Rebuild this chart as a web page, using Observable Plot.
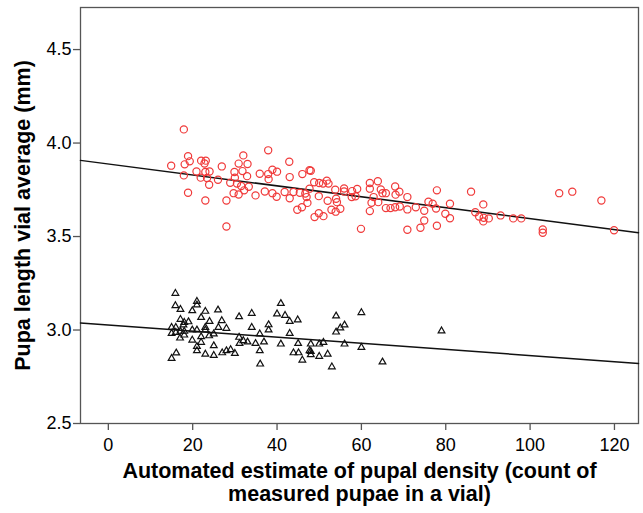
<!DOCTYPE html>
<html>
<head>
<meta charset="utf-8">
<script src="https://cdn.jsdelivr.net/npm/d3@7"></script>
<script src="https://cdn.jsdelivr.net/npm/@observablehq/plot@0.6"></script>
<style>
  html, body { margin: 0; padding: 0; background: #fff; }
  #chart svg { display: block; }
</style>
</head>
<body>
<div id="chart"></div>
<script>
// Red circles (upper group)
const redX = [14.9,17.9,18.9,18.1,19.3,17.9,18.9,22.0,23.1,22.8,20.9,23.0,24.0,21.9,23.4,23.9,26.0,26.9,23.0,28.0,28.0,29.9,30.9,32.0,33.0,32.9,31.8,28.9,30.0,30.5,31.5,29.7,30.9,32.2,33.3,34.9,35.9,37.9,37.9,38.9,40.0,38.0,37.1,38.9,39.9,42.9,43.0,41.8,43.0,46.0,47.7,43.9,45.4,46.7,47.2,45.9,44.8,47.7,
  48.0,48.8,50.0,50.9,51.8,52.2,47.0,49.9,52.0,53.8,55.9,55.9,57.8,59.0,54.0,54.2,57.7,58.6,55.0,52.9,53.9,49.9,48.9,51.0,59.9,62.0,62.0,63.9,64.6,65.0,65.8,68.0,69.0,68.1,62.9,62.4,64.0,62.0,65.8,66.9,68.0,69.1,70.9,70.9,70.9,72.9,74.9,74.9,74.0,75.9,76.9,77.9,77.7,77.9,79.9,81.0,81.0,
  86.0,87.0,88.9,87.9,89.0,90.2,88.9,93.0,96.0,97.9,103.0,103.0,106.9,110.0,116.9,119.9];
const redY = [3.879,4.073,3.93,3.886,3.902,3.827,3.734,3.906,3.906,3.891,3.848,3.845,3.848,3.815,3.813,3.777,3.804,3.875,3.693,3.693,3.554,3.845,3.89,3.934,3.888,3.823,3.85,3.788,3.815,3.783,3.77,3.732,3.725,3.747,3.766,3.72,3.836,3.961,3.834,3.857,3.847,3.807,3.741,3.732,3.713,3.9,3.818,3.738,3.705,3.834,3.855,3.738,3.734,3.73,3.68,3.657,3.643,3.756,
  3.852,3.79,3.786,3.783,3.799,3.783,3.711,3.716,3.691,3.75,3.757,3.741,3.743,3.754,3.702,3.684,3.711,3.715,3.649,3.643,3.633,3.625,3.604,3.609,3.541,3.786,3.756,3.796,3.752,3.732,3.732,3.768,3.74,3.724,3.711,3.681,3.684,3.636,3.652,3.652,3.657,3.661,3.711,3.645,3.536,3.657,3.638,3.586,3.547,3.686,3.675,3.747,3.65,3.558,3.622,3.675,3.598,
  3.74,3.63,3.672,3.607,3.6,3.597,3.581,3.613,3.597,3.597,3.538,3.52,3.732,3.74,3.693,3.534];

// Black triangles (lower group)
const blackX = [15.9,15.9,17.1,21.0,21.0,19.9,23.0,26.0,22.0,17.1,18.0,19.0,17.8,24.0,26.9,23.0,23.0,15.0,16.0,15.0,16.0,17.1,18.0,19.9,21.0,26.1,28.0,25.0,17.0,18.0,19.9,22.0,22.0,23.9,21.0,21.0,25.0,16.1,15.0,23.0,25.0,27.0,28.0,29.0,30.0,31.0,34.0,34.0,31.0,32.0,33.0,31.1,34.9,35.9,36.9,35.9,36.0,38.0,38.0,40.9,40.0,41.9,43.0,44.9,43.0,40.9,45.0,43.9,45.1,46.0,47.7,
  54.0,60.0,56.0,55.0,54.0,56.0,60.0,51.0,50.0,48.0,48.0,48.0,52.0,50.0,53.0,65.0,79.0];
const blackY = [3.196,3.13,3.11,3.153,3.134,3.103,3.1,3.107,3.067,3.057,3.041,3.044,3.027,3.046,3.05,3.014,3.0,3.014,3.014,2.982,2.987,2.993,2.993,3.0,3.0,3.014,3.009,2.979,2.957,2.973,2.946,2.964,2.934,2.969,2.912,2.889,2.916,2.877,2.848,2.871,2.864,2.878,2.889,2.895,2.875,3.071,3.089,3.014,2.961,2.943,2.936,2.928,2.928,2.979,2.936,2.889,2.818,3.028,3.0,3.142,3.086,3.078,3.046,3.054,2.982,2.925,2.928,2.878,2.878,2.839,2.889,
  3.075,3.093,3.027,3.011,2.989,2.925,2.907,2.934,2.925,2.925,2.885,2.868,2.871,2.859,2.803,2.829,2.995];

// Fitted lines (intercept, slope)
const fitNames = ["red", "black"];
const fitIntercept = [3.888, 3.027];
const fitSlope = [-0.002925, -0.001635];

const xTicks = [0, 20, 40, 60, 80, 100, 120];
const yTicks = [2.5, 3.0, 3.5, 4.0, 4.5];
const xTitle1 = "Automated estimate of pupal density (count of";
const xTitle2 = "measured pupae in a vial)";
const yTitle = "Pupa length vial average (mm)";

const xDomain = [-6.6, 125.7];
const yDomain = [2.5, 4.725];

const red = redX.map((x, i) => ({x, y: redY[i]}));
const black = blackX.map((x, i) => ({x, y: blackY[i]}));
const fitLines = fitNames.flatMap((g, i) => xDomain.map(x => ({g, x, y: fitIntercept[i] + fitSlope[i] * x})));

const plot = Plot.plot({
  width: 643,
  height: 513,
  marginLeft: 80,
  marginRight: 5,
  marginTop: 7,
  marginBottom: 90,
  style: {fontFamily: "'Liberation Sans', Arial, sans-serif", fontSize: "18px", color: "#000", background: "#fff"},
  x: {domain: xDomain},
  y: {domain: yDomain},
  marks: [
    Plot.axisX({ticks: xTicks, tickSize: 7, tickPadding: 8, stroke: "#555", strokeWidth: 1.3, fill: "#000", label: null, fontSize: 18}),
    Plot.axisY({ticks: yTicks, tickFormat: d3.format(".1f"), tickSize: 7, tickPadding: 2, stroke: "#555", strokeWidth: 1.3, fill: "#000", label: null, fontSize: 18}),
    Plot.frame({stroke: "#555", strokeWidth: 1.3}),
    Plot.line(fitLines, {x: "x", y: "y", z: "g", stroke: "#111", strokeWidth: 1.5}),
    Plot.dot(red, {x: "x", y: "y", r: 3.6, stroke: "#f03a3a", strokeWidth: 1.2, fill: "none", symbol: "circle"}),
    Plot.dot(black, {x: "x", y: "y", r: 2.5, stroke: "#111", strokeWidth: 1.2, fill: "none", symbol: "triangle"}),
    Plot.text([xTitle1], {frameAnchor: "bottom", dy: 54, text: d => d, fontWeight: "bold", fontSize: 21.5, fill: "#000"}),
    Plot.text([xTitle2], {frameAnchor: "bottom", dy: 77, text: d => d, fontWeight: "bold", fontSize: 21.5, fill: "#000"}),
    Plot.text([yTitle], {frameAnchor: "left", dx: -57, rotate: -90, textAnchor: "middle", text: d => d, fontWeight: "bold", fontSize: 21.5, fill: "#000"})
  ]
});
document.getElementById("chart").appendChild(plot);
</script>
</body>
</html>
